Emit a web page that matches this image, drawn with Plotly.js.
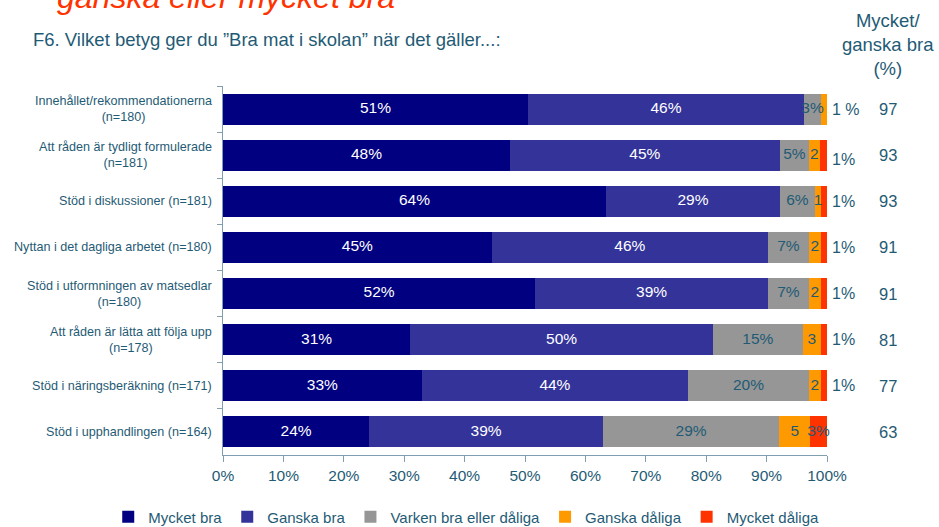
<!DOCTYPE html>
<html>
<head>
<meta charset="utf-8">
<script src="https://cdn.plot.ly/plotly-3.0.1.min.js"></script>
<style>html,body{margin:0;padding:0;background:#fff;}#chart{width:939px;height:527px;}</style>
</head>
<body>
<div id="chart"></div>
<script>
const categories = [
  "Innehållet/rekommendationerna<br>(n=180)",
  "Att råden är tydligt formulerade<br>(n=181)",
  "Stöd i diskussioner (n=181)",
  "Nyttan i det dagliga arbetet (n=180)",
  "Stöd i utformningen av matsedlar<br>(n=180)",
  "Att råden är lätta att följa upp<br>(n=178)",
  "Stöd i näringsberäkning (n=171)",
  "Stöd i upphandlingen (n=164)"
];
const seriesNames = ["Mycket bra", "Ganska bra", "Varken bra eller dåliga", "Ganska dåliga", "Mycket dåliga"];
const mycketBra    = [50.5, 47.5, 63.4, 44.5, 51.7, 31.0, 32.9, 24.2];
const ganskaBra    = [45.7, 44.7, 28.8, 45.7, 38.5, 50.1, 44.1, 38.7];
const varken       = [2.8, 4.8, 5.8, 6.8, 6.8, 14.9, 20.0, 29.2];
const ganskaDaliga = [1.0, 1.8, 1.0, 2.0, 2.0, 3.0, 2.0, 5.1];
const mycketDaliga = [0.0, 1.2, 1.0, 1.0, 1.0, 1.0, 1.0, 2.8];

const lblMycketBra    = ["51%","48%","64%","45%","52%","31%","33%","24%"];
const lblGanskaBra    = ["46%","45%","29%","46%","39%","50%","44%","39%"];
const lblVarken       = ["3%","5%","6%","7%","7%","15%","20%","29%"];
const lblGanskaDaliga = ["","2","1","2","2","3","2","5"];
const lblMycketDaliga = ["","","","","","","","3%"];
const outsideLabels   = ["1 %","1%","1%","1%","1%","1%","1%",""];
const totalBra        = [97, 93, 93, 91, 91, 81, 77, 63];
const xTicks = [0,10,20,30,40,50,60,70,80,90,100];

const FONT = "Liberation Sans, Arial, sans-serif";
const TEAL = "#1f5b75";
const colors = ["#000080", "#333399", "#969696", "#ff9900", "#ff3300"];
const values = [mycketBra, ganskaBra, varken, ganskaDaliga, mycketDaliga];
const labels = [lblMycketBra, lblGanskaBra, lblVarken, lblGanskaDaliga, lblMycketDaliga];
const textColors = ["#ffffff", "#ffffff", TEAL, TEAL, TEAL];

const data = values.map((v, i) => ({
  type: "bar",
  orientation: "h",
  name: seriesNames[i],
  y: categories,
  x: v,
  marker: {color: colors[i], line: {width: 0}},
  hoverinfo: "skip"
}));

// segment labels drawn on top of all bars, centred on each stacked segment
const cum = categories.map(() => 0);
values.forEach((v, i) => {
  const mids = v.map((val, j) => { const m = cum[j] + val / 2; cum[j] += val; return m; });
  data.push({
    type: "scatter", mode: "text", x: mids, y: categories, text: labels[i],
    textposition: "middle center", cliponaxis: false, showlegend: false, hoverinfo: "skip",
    textfont: {family: FONT, size: 15.5, color: textColors[i]}
  });
});

const annotations = [];
categories.forEach((c, i) => {
  annotations.push({
    xref: "paper", yref: "y", x: 0, y: c, xanchor: "right", yanchor: "middle",
    xshift: -9, text: c, showarrow: false, align: "center",
    font: {family: FONT, size: 12.6, color: TEAL}
  });
  if (outsideLabels[i]) {
    annotations.push({
      xref: "x", yref: "y", x: 100, y: c, xanchor: "left", yanchor: "middle",
      xshift: 3, yshift: i === 1 ? -4 : 0, text: outsideLabels[i], showarrow: false,
      font: {family: FONT, size: 16, color: TEAL}
    });
  }
  annotations.push({
    xref: "paper", yref: "y", x: 1.101, y: c, xanchor: "center", yanchor: "middle",
    text: String(totalBra[i]), showarrow: false,
    font: {family: FONT, size: 16.5, color: TEAL}
  });
});
annotations.push({
  xref: "paper", yref: "paper", x: 1.101, y: 1.0 + (86 - 45) / 369, xanchor: "center", yanchor: "middle",
  text: "Mycket/<br>ganska bra<br>(%)", showarrow: false, align: "center",
  font: {family: FONT, size: 18.5, color: TEAL}
});
annotations.push({
  xref: "paper", yref: "paper", x: (55 - 223) / 604, y: 1 + (86 - 17) / 369, xanchor: "left", yanchor: "bottom",
  text: "<i>ganska eller mycket bra</i>", showarrow: false,
  font: {family: FONT, size: 32, color: "#ff3300"}
});

const layout = {
  width: 939, height: 527,
  margin: {l: 223, r: 112, t: 86, b: 72, pad: 0, autoexpand: false},
  paper_bgcolor: "#ffffff", plot_bgcolor: "#ffffff",
  barmode: "stack", bargap: 0.33,
  font: {family: FONT, color: TEAL},
  title: {
    text: "F6. Vilket betyg ger du ”Bra mat i skolan” när det gäller...:",
    xref: "container", yref: "container", x: 33 / 939, xanchor: "left",
    y: 1 - 40 / 527, yanchor: "middle",
    font: {family: FONT, size: 18.5, color: TEAL}
  },
  xaxis: {
    range: [0, 100], tickvals: xTicks, ticktext: xTicks.map(t => t + "%"),
    showgrid: false, zeroline: false, showline: true, linecolor: "#7f9fb0", linewidth: 1,
    ticks: "outside", ticklen: 6, tickcolor: "#7f9fb0",
    tickfont: {family: FONT, size: 15.5, color: TEAL},
    fixedrange: true
  },
  yaxis: {
    type: "category", autorange: "reversed",
    showticklabels: false, showgrid: false, zeroline: false,
    showline: true, linecolor: "#7f9fb0", linewidth: 1,
    ticks: "outside", ticklen: 5, tickcolor: "#7f9fb0", tickson: "boundaries",
    fixedrange: true
  },
  showlegend: true,
  legend: {
    orientation: "h", xref: "paper", yref: "paper",
    x: -0.19, xanchor: "left", y: -(517 - 455) / 369, yanchor: "middle",
    traceorder: "normal", itemwidth: 30,
    font: {family: FONT, size: 15, color: TEAL}
  },
  annotations: annotations
};

Plotly.newPlot("chart", data, layout, {displayModeBar: false, staticPlot: true});
</script>
</body>
</html>
